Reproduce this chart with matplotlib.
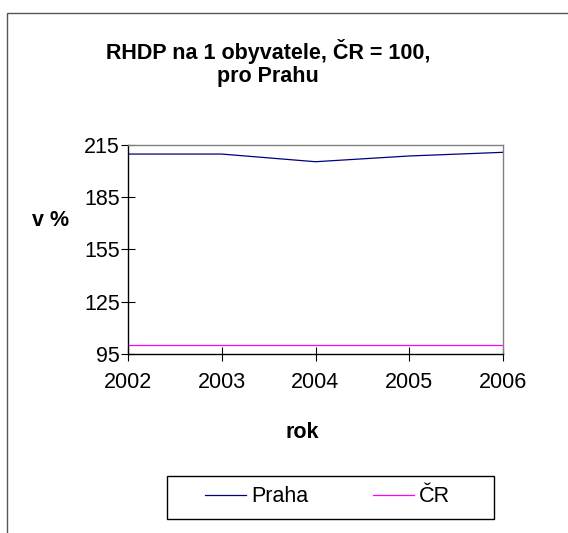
import matplotlib
matplotlib.use('Agg')
import matplotlib.pyplot as plt
from matplotlib.patches import Rectangle

plt.rcParams['font.family'] = ['Liberation Sans', 'DejaVu Sans']

years = ['2002', '2003', '2004', '2005', '2006']
praha = [209.8, 209.8, 205.4, 208.7, 210.8]
cr = [100, 100, 100, 100, 100]
y_ticks = [95, 125, 155, 185, 215]

W, H = 568, 533
fig = plt.figure(figsize=(W / 100, H / 100), dpi=100)

# outer chart-area frame (right/bottom edges fall outside the image)
fig.patches.append(Rectangle((7 / W, -0.1), 1.2, 1.1 - 12.5 / H,
                             transform=fig.transFigure, fill=False,
                             edgecolor='#555555', lw=1.0))

ax = fig.add_axes([128 / W, 1 - 354 / H, (503 - 128) / W, (354 - 145) / H])
x = range(len(years))
ax.plot(x, praha, color='#000080', lw=0.9, label='Praha')
ax.plot(x, cr, color='#FF00FF', lw=0.9, label='ČR')

ax.set_xlim(0, len(years) - 1)
ax.set_ylim(95, 215)
ax.set_xticks(list(x))
ax.set_xticklabels(years)
ax.set_yticks(y_ticks)
ax.tick_params(axis='both', direction='inout', length=10, width=0.8,
               labelsize=15.5, color='black')
ax.tick_params(axis='x', pad=8)
ax.tick_params(axis='y', pad=1)

for s in ['left', 'bottom']:
    ax.spines[s].set_color('black')
    ax.spines[s].set_linewidth(1.0)
for s in ['top', 'right']:
    ax.spines[s].set_color('#808080')
    ax.spines[s].set_linewidth(1.0)

fig.text(268 / W, 1 - 63 / H, 'RHDP na 1 obyvatele, ČR = 100,\npro Prahu',
         ha='center', va='center', fontsize=15.5, fontweight='bold',
         linespacing=1.1)
fig.text(51 / W, 1 - 221 / H, 'v %', ha='center', va='center',
         fontsize=15.5, fontweight='bold')
fig.text(302 / W, 1 - 432 / H, 'rok', ha='center', va='center',
         fontsize=15.5, fontweight='bold')

# legend box is wider than its entries, so draw the frame separately
fig.patches.append(Rectangle((167 / W, 1 - 519 / H), (494 - 167) / W, 43 / H,
                             transform=fig.transFigure, fill=False,
                             edgecolor='black', lw=1.0))
fig.legend(loc='center', bbox_to_anchor=(327.5 / W, 1 - 497 / H), ncol=2,
           fontsize=15.5, frameon=False, handlelength=1.9,
           handletextpad=0.25, columnspacing=3.0, borderpad=0.35,
           borderaxespad=0)

fig.savefig('out.png', dpi=100)
